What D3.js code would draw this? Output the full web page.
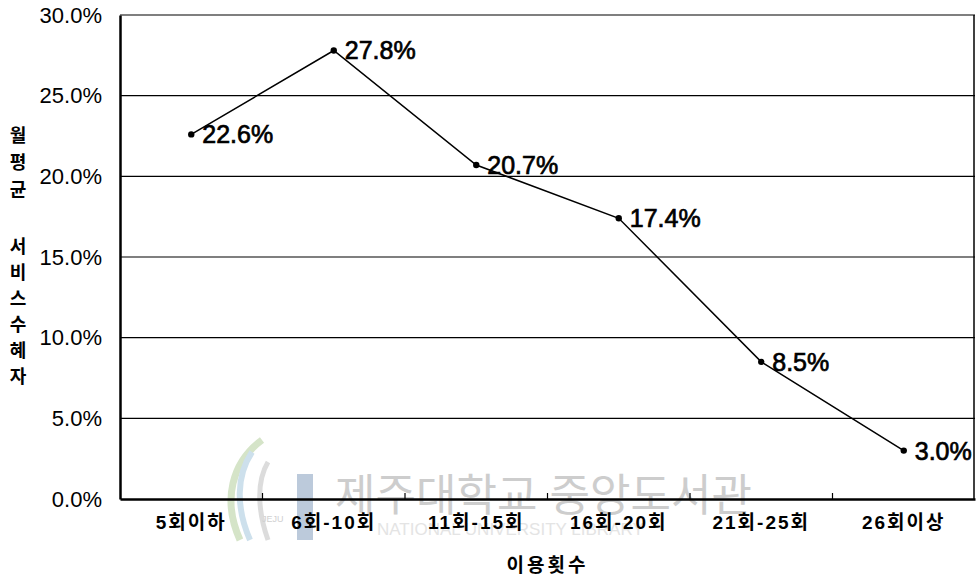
<!DOCTYPE html>
<html>
<head>
<meta charset="utf-8">
<script src="https://cdn.jsdelivr.net/npm/d3@7"></script>
<style>
  body { margin: 0; background: #fff; }
  svg { display: block; }
  text { font-family: "Liberation Sans", Arial, "Noto Sans CJK KR", sans-serif; fill: #000; }
  .kr { font-family: "Liberation Sans", "Noto Sans CJK KR", sans-serif; }
</style>
</head>
<body>
<script>
// 이용횟수별 월평균 서비스수혜자 비율
var categories = ["5회이하", "6회-10회", "11회-15회", "16회-20회", "21회-25회", "26회이상"];
var values = [22.6, 27.8, 20.7, 17.4, 8.5, 3.0];
var yTicks = [0, 5, 10, 15, 20, 25, 30];
var yTitle1 = ["월", "평", "균"];
var yTitle2 = ["서", "비", "스", "수", "혜", "자"];

var margin = {top: 15, right: 3, bottom: 80, left: 120},
	width = 978 - margin.left - margin.right,
	height = 579 - margin.top - margin.bottom;

var x = d3.scaleBand()
	.domain(categories)
	.range([0, width]);

var y = d3.scaleLinear()
	.domain([0, 30])
	.range([height, 0]);

var root = d3.select("body").append("svg")
	.attr("width", 978)
	.attr("height", 579);

// watermark (scan stamp)
var wm = root.append("g").attr("class", "watermark");
wm.append("path")
	.attr("d", "M262,440 C232,462 222,500 240,540")
	.attr("fill", "none").attr("stroke", "#d5e4c8").attr("stroke-width", 7);
wm.append("path")
	.attr("d", "M252,452 C236,476 236,508 250,540")
	.attr("fill", "none").attr("stroke", "#cde0ec").attr("stroke-width", 6);
wm.append("path")
	.attr("d", "M268,462 C256,482 258,512 268,540")
	.attr("fill", "none").attr("stroke", "#dcdcdc").attr("stroke-width", 5);
wm.append("rect")
	.attr("x", 297).attr("y", 474).attr("width", 16).attr("height", 66)
	.attr("fill", "#bccadb");
wm.append("text")
	.attr("class", "kr")
	.attr("x", 335).attr("y", 511)
	.style("font-size", "44px")
	.style("fill", "#cdcdcd")
	.text("제주대학교 중앙도서관");
wm.append("text")
	.attr("x", 377).attr("y", 535)
	.style("font-size", "17px")
	.style("fill", "#e4e4e4")
	.text("NATIONAL UNIVERSITY LIBRARY");
wm.append("text")
	.attr("x", 262).attr("y", 522)
	.style("font-size", "9px")
	.style("fill", "#d0d0d0")
	.text("JEJU");

var svg = root.append("g")
	.attr("transform", "translate(" + margin.left + "," + margin.top + ")");

// gridlines
svg.selectAll(".grid")
	.data(yTicks.filter(function(d) { return d > 0; }))
	.enter().append("line")
	.attr("class", "grid")
	.attr("x1", 0)
	.attr("x2", width)
	.attr("y1", function(d) { return y(d); })
	.attr("y2", function(d) { return y(d); })
	.attr("stroke", "#000")
	.attr("stroke-width", 1.2);

// right border
svg.append("line")
	.attr("x1", width - 1).attr("x2", width - 1)
	.attr("y1", 0).attr("y2", height)
	.attr("stroke", "#000").attr("stroke-width", 1.5);

var yAxis = d3.axisLeft(y)
	.tickValues(yTicks)
	.tickSize(0)
	.tickPadding(18)
	.tickFormat(function(d) { return d.toFixed(1) + "%"; });

var gy = svg.append("g")
	.attr("class", "y axis")
	.call(yAxis);
gy.select(".domain").attr("stroke", "#000").attr("stroke-width", 2.5);
gy.selectAll("text")
	.style("font-size", "22px")
	.style("font-family", "'Liberation Sans', Arial, sans-serif");

var xAxis = d3.axisBottom(x)
	.tickSize(0)
	.tickPadding(17);

var gx = svg.append("g")
	.attr("class", "x axis")
	.attr("transform", "translate(0," + height + ")")
	.call(xAxis);
gx.select(".domain").attr("stroke", "#000").attr("stroke-width", 2.5);
gx.selectAll("text")
	.attr("class", "kr")
	.style("font-size", "19px")
	.style("font-weight", "bold")
	.style("letter-spacing", "2px");

// category boundary ticks
svg.selectAll(".btick")
	.data(categories.slice(1))
	.enter().append("line")
	.attr("class", "btick")
	.attr("x1", function(d) { return x(d); })
	.attr("x2", function(d) { return x(d); })
	.attr("y1", height)
	.attr("y2", height - 6)
	.attr("stroke", "#000")
	.attr("stroke-width", 1.2);

// line
var line = d3.line()
	.x(function(d, i) { return x(categories[i]) + x.bandwidth() / 2; })
	.y(function(d) { return y(d); });

svg.append("path")
	.datum(values)
	.attr("d", line)
	.attr("fill", "none")
	.attr("stroke", "#000")
	.attr("stroke-width", 1.5);

svg.selectAll(".dot")
	.data(values)
	.enter().append("circle")
	.attr("class", "dot")
	.attr("cx", function(d, i) { return x(categories[i]) + x.bandwidth() / 2; })
	.attr("cy", function(d) { return y(d); })
	.attr("r", 3.2)
	.attr("fill", "#000");

svg.selectAll(".lbl")
	.data(values)
	.enter().append("text")
	.attr("class", "lbl")
	.attr("x", function(d, i) { return x(categories[i]) + x.bandwidth() / 2 + 11; })
	.attr("y", function(d) { return y(d); })
	.attr("dy", "0.36em")
	.style("font-size", "25px")
	.style("stroke", "#000")
	.style("stroke-width", "0.7px")
	.text(function(d) { return d.toFixed(1) + "%"; });

// axis titles
root.append("text")
	.attr("class", "kr")
	.attr("x", margin.left + width / 2)
	.attr("y", 572)
	.attr("text-anchor", "middle")
	.style("font-size", "19px")
	.style("font-weight", "bold")
	.style("letter-spacing", "3px")
	.text("이용횟수");

root.selectAll(".yt1")
	.data(yTitle1)
	.enter().append("text")
	.attr("class", "kr yt1")
	.attr("x", 18)
	.attr("y", function(d, i) { return 136 + i * 27; })
	.attr("dy", "0.35em")
	.attr("text-anchor", "middle")
	.style("font-size", "18px")
	.style("font-weight", "bold")
	.text(function(d) { return d; });

root.selectAll(".yt2")
	.data(yTitle2)
	.enter().append("text")
	.attr("class", "kr yt2")
	.attr("x", 18)
	.attr("y", function(d, i) { return 247 + i * 26; })
	.attr("dy", "0.35em")
	.attr("text-anchor", "middle")
	.style("font-size", "18px")
	.style("font-weight", "bold")
	.text(function(d) { return d; });
</script>
</body>
</html>
